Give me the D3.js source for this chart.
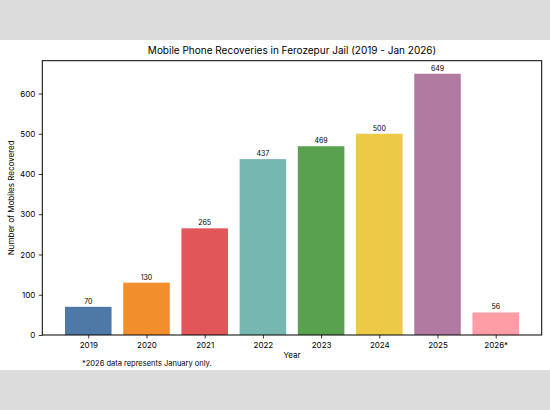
<!DOCTYPE html>
<html><head><meta charset="utf-8">
<script src="https://cdn.jsdelivr.net/npm/d3@7"></script>
<style>
body{margin:0;background:#dcdcdc;}
svg{display:block;}
text{font-family:"Inter","Noto Sans",sans-serif;fill:#000;}
</style></head>
<body>
<svg id="c" width="550" height="410"></svg>
<script>
const categories = ["2019","2020","2021","2022","2023","2024","2025","2026*"];
const values = [70,130,265,437,469,500,649,56];
const colors = ["#4e79a7","#f28e2b","#e15759","#76b7b2","#59a14f","#edc948","#b07aa1","#ff9da7"];
const yTicks = [0,100,200,300,400,500,600];
const title = "Mobile Phone Recoveries in Ferozepur Jail (2019 - Jan 2026)";
const xLabel = "Year";
const yLabel = "Number of Mobiles Recovered";
const note = "*2026 data represents January only.";

const svg = d3.select("#c");
svg.append("rect").attr("x",0).attr("y",40).attr("width",550).attr("height",330).attr("fill","#fff");

const L=42.3, R=541.7, T=60.7, B=335;
const n = categories.length;
const x = d3.scaleLinear().domain([-0.4-0.05*(n-0.2), n-1+0.4+0.05*(n-0.2)]).range([L,R]);
const ymax = d3.max(values)*1.05;
const y = d3.scaleLinear().domain([0,ymax]).range([B,T]);
const bw = x(0.8)-x(0);

svg.append("g").selectAll("rect").data(values).join("rect")
  .attr("x",(d,i)=>x(i)-bw/2).attr("width",bw)
  .attr("y",d=>y(d)).attr("height",d=>B-y(d))
  .attr("fill",(d,i)=>colors[i]);

svg.append("g").selectAll("text").data(values).join("text")
  .attr("x",(d,i)=>x(i)).attr("y",d=>y(d)-3)
  .attr("text-anchor","middle").attr("font-size","7px").text(d=>d);

const yAxis = d3.axisLeft(y).tickValues(yTicks).tickSize(3.5).tickPadding(3.5);
const gy = svg.append("g").attr("transform",`translate(${L},0)`).call(yAxis);
gy.select(".domain").remove();
gy.selectAll("text").attr("font-size","8px").style("font-family","Inter, sans-serif");
gy.selectAll("line").attr("stroke","#000").attr("stroke-width",0.8);

const xAxis = d3.axisBottom(x).tickValues(d3.range(n)).tickFormat(i=>categories[i]).tickSize(3.5).tickPadding(3.5);
const gx = svg.append("g").attr("transform",`translate(0,${B})`).call(xAxis);
gx.select(".domain").remove();
gx.selectAll("text").attr("font-size","8px").style("font-family","Inter, sans-serif");
gx.selectAll("line").attr("stroke","#000").attr("stroke-width",0.8);

svg.append("rect").attr("x",L).attr("y",T).attr("width",R-L).attr("height",B-T)
  .attr("fill","none").attr("stroke","#000").attr("stroke-width",1);

svg.append("text").attr("x",(L+R)/2).attr("y",54).attr("text-anchor","middle").attr("font-size","10px").text(title);
svg.append("text").attr("x",(L+R)/2).attr("y",358).attr("text-anchor","middle").attr("font-size","8px").text(xLabel);
svg.append("text").attr("transform",`translate(14,${(T+B)/2}) rotate(-90)`).attr("text-anchor","middle").attr("font-size","8px").text(yLabel);
svg.append("text").attr("x",82).attr("y",366).attr("font-size","7.5px").text(note);
</script>
</body></html>
